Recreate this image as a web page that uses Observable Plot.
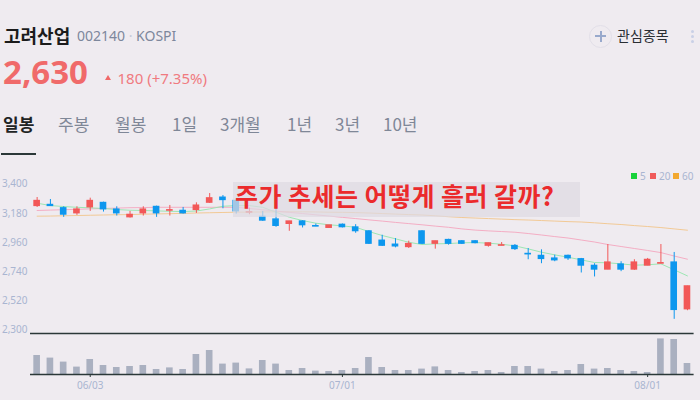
<!DOCTYPE html>
<html><head><meta charset="utf-8">
<script src="https://cdn.jsdelivr.net/npm/d3@7"></script>
<script src="https://cdn.jsdelivr.net/npm/@observablehq/plot@0.6"></script>
<style>
body{margin:0;background:#efebf0;width:700px;height:400px;overflow:hidden;position:relative;font-family:"Noto Sans CJK KR","Noto Sans",sans-serif;}
.abs{position:absolute;white-space:nowrap;line-height:1;}
.tab{position:absolute;top:115px;font-size:17px;color:#7f8797;line-height:1;white-space:nowrap;}
svg{position:absolute;left:0;}
</style></head><body>
<div class="abs" style="left:4px;top:26px;font-size:18px;font-weight:700;color:#1b1b1b">고려산업</div>
<div class="abs" style="left:77px;top:29px;font-size:14px;color:#7d879c;font-family:'Noto Sans'">002140 <span style="color:#c3c8d6">·</span> KOSPI</div>
<div class="abs" style="left:3px;top:55px;font-size:33px;font-weight:700;color:#f06a6a;font-family:'Noto Sans'">2,630</div>
<div class="abs" style="left:105px;top:74.5px;width:0;height:0;border-left:3.7px solid transparent;border-right:3.7px solid transparent;border-bottom:5px solid #f06868"></div>
<div class="abs" style="left:117.5px;top:71px;font-size:15px;color:#f07a80;font-family:'Noto Sans'">180 (+7.35%)</div>
<div class="tab" style="left:3px;color:#1f2424;font-weight:700">일봉</div>
<div class="tab" style="left:58px">주봉</div>
<div class="tab" style="left:115px">월봉</div>
<div class="tab" style="left:172px">1일</div>
<div class="tab" style="left:220px">3개월</div>
<div class="tab" style="left:287px">1년</div>
<div class="tab" style="left:335px">3년</div>
<div class="tab" style="left:383px">10년</div>
<div class="abs" style="left:1px;top:153px;width:35px;height:2px;background:#2b3838"></div>
<div class="abs" style="left:589px;top:25px;width:21px;height:21px;border:1px solid #e2dfe8;border-radius:50%"></div>
<div class="abs" style="left:595px;top:35px;width:11px;height:2px;background:#98a9cc"></div>
<div class="abs" style="left:599.5px;top:30.5px;width:2px;height:11px;background:#98a9cc"></div>
<div class="abs" style="left:617px;top:28px;font-size:14px;color:#2a2e33">관심종목</div>
<div class="abs" style="left:691px;top:30px;width:3px;height:3px;border-radius:50%;background:#c9d0e6"></div>
<div class="abs" style="left:691px;top:35px;width:3px;height:3px;border-radius:50%;background:#c9d0e6"></div>
<div class="abs" style="left:691px;top:40px;width:3px;height:3px;border-radius:50%;background:#c9d0e6"></div>
<div id="price"></div>
<div id="vol"></div>
<div class="abs" style="left:631px;top:173px;width:6px;height:6px;background:#17d23a"></div>
<div class="abs" style="left:640px;top:171px;font-size:10px;color:#a9b5d1;font-family:'Noto Sans'">5</div>
<div class="abs" style="left:650px;top:173px;width:6px;height:6px;background:#f05a5a"></div>
<div class="abs" style="left:659px;top:171px;font-size:10px;color:#a9b5d1;font-family:'Noto Sans'">20</div>
<div class="abs" style="left:673px;top:173px;width:6px;height:6px;background:#f2a830"></div>
<div class="abs" style="left:682px;top:171px;font-size:10px;color:#a9b5d1;font-family:'Noto Sans'">60</div>
<div class="abs" style="left:233px;top:182px;width:347px;height:35px;background:rgba(222,218,226,0.72)"></div>
<div class="abs" style="left:235px;top:183px;font-size:25px;font-weight:700;color:#eb2a2c;letter-spacing:0.45px">주가 추세는 어떻게 흘러 갈까?</div>
<script>
const dates = ["05/28","05/29","05/30","05/31",
"06/03","06/04","06/05","06/07","06/10","06/11","06/12","06/13","06/14","06/17","06/18","06/19","06/20","06/21","06/24","06/25","06/26","06/27","06/28",
"07/01","07/02","07/03","07/04","07/05","07/08","07/09","07/10","07/11","07/12","07/15","07/16","07/17","07/18","07/19","07/22","07/23","07/24","07/25","07/26","07/29","07/30","07/31",
"08/01","08/02","08/05","08/06"];
const open  = [3235,3245,3220,3180,3225,3260,3210,3150,3180,3230,3200,3200,3205,3260,3300,3275,3185,3155,3135,3100,3120,3085,3070,3095,3075,3045,2975,2945,2925,3045,2950,2980,2970,2970,2935,2935,2935,2875,2860,2840,2860,2835,2785,2755,2795,2755,2785,2800,2810,2455];
const high  = [3300,3285,3230,3230,3295,3265,3230,3195,3230,3235,3240,3225,3260,3330,3315,3280,3220,3195,3275,3120,3125,3100,3090,3100,3095,3050,3015,2990,2970,3050,2970,2985,2975,2975,2955,2960,2945,2915,2905,2865,2865,2840,2800,2945,2815,2830,2840,2945,2885,2630];
const low   = [3225,3235,3150,3165,3195,3190,3160,3145,3160,3150,3160,3175,3180,3255,3215,3175,3170,3120,3075,3045,3070,3080,3070,3070,3030,2945,2930,2920,2915,2945,2910,2940,2945,2950,2925,2935,2900,2830,2800,2815,2825,2730,2700,2755,2740,2750,2785,2800,2380,2445];
const close = [3275,3235,3170,3210,3275,3210,3180,3170,3210,3180,3205,3180,3240,3295,3280,3195,3190,3125,3085,3120,3090,3080,3090,3075,3045,2950,2935,2930,2950,2950,2970,2950,2950,2955,2955,2940,2910,2870,2835,2825,2840,2785,2755,2810,2755,2810,2830,2805,2450,2630];
const volume = [95,82,62,37,75,45,35,40,45,25,33,25,100,120,52,57,28,70,52,20,30,17,15,20,30,85,35,20,20,27,38,20,10,15,20,10,40,40,27,15,20,50,27,30,20,15,10,178,175,55];
const ma5  = [3257,3239,3232,3226,3222,3217,3209,3204,3202,3199,3196,3194,3198,3214,3234,3239,3239,3226,3189,3151,3126,3106,3094,3086,3075,3043,3013,2988,2962,2945,2950,2952,2958,2960,2955,2947,2935,2912,2887,2867,2849,2829,2809,2807,2799,2789,2792,2799,2754,2708];
const ma20 = [3202,3205,3208,3211,3214,3217,3220,3223,3224,3226,3226,3226,3226,3226,3226,3226,3217,3207,3198,3188,3179,3169,3160,3150,3141,3131,3122,3112,3103,3094,3084,3075,3063,3054,3048,3043,3038,3028,3017,3005,2994,2979,2964,2945,2930,2915,2900,2884,2858,2834];
const ma60 = [3159,3160,3162,3164,3166,3168,3170,3171,3174,3176,3178,3180,3183,3185,3187,3189,3190,3191,3192,3192,3192,3191,3189,3188,3186,3183,3179,3175,3171,3168,3162,3155,3149,3145,3141,3137,3133,3130,3126,3122,3118,3115,3109,3102,3096,3088,3081,3073,3063,3053];
const yTicks = [2300,2520,2740,2960,3180,3400];
const xTicks = ["06/03","07/01","08/01"];

const RED = "#f25858", BLUE = "#0d97ee", LINE = "#2b3838", LABEL = "#a9b5d1";
const rows = dates.map((d,i)=>({date:d, open:open[i], high:high[i], low:low[i], close:close[i],
  volume:volume[i], ma5:ma5[i], ma20:ma20[i], ma60:ma60[i], up: close[i] >= open[i]}));
const xScale = {type:"band", domain: dates, paddingInner:0.5, paddingOuter:0.25, round:false, axis:null};
const common = {width:700, marginLeft:30, marginRight:6.4,
  style:{background:"transparent", fontFamily:"'Noto Sans', sans-serif", fontSize:"10px", overflow:"visible"}};

const price = Plot.plot({...common, height:176, marginTop:10, marginBottom:3,
  x: xScale,
  y: {domain:[2273,3504], axis:null, label:null},
  marks: [
    Plot.lineY(rows, {x:"date", y:"ma60", stroke:"#f2c58c", strokeWidth:1, strokeOpacity:0.9}),
    Plot.lineY(rows, {x:"date", y:"ma20", stroke:"#f4a6bf", strokeWidth:1, strokeOpacity:0.9}),
    Plot.lineY(rows, {x:"date", y:"ma5", stroke:"#98e6b0", strokeWidth:1, strokeOpacity:0.95}),
    Plot.ruleX(rows, {x:"date", y1:"low", y2:"high", stroke:d=>d.up?RED:BLUE, strokeWidth:1}),
    Plot.barY(rows, {x:"date", y1:"open", y2:"close", fill:d=>d.up?RED:BLUE, insetTop:-0.5, insetBottom:-0.5}),
    Plot.axisY(yTicks, {tickSize:0, tickPadding:3, fill:LABEL, fontSize:10, tickFormat:d3.format(","), label:null}),
    Plot.ruleY([2273], {stroke:LINE, strokeWidth:1.5})
  ]});
price.style.top = "160px";
document.getElementById("price").append(price);

const vol = Plot.plot({...common, height:67, marginTop:5, marginBottom:26,
  x: xScale,
  y: {domain:[0,180], axis:null, label:null},
  marks: [
    Plot.barY(rows, {x:"date", y:"volume", fill:"#aab0c0"}),
    Plot.ruleY([0], {stroke:LINE, strokeWidth:1.5}),
    Plot.axisX(xTicks, {tickSize:3, tickPadding:4, fill:LABEL, stroke:LINE, fontSize:10, label:null})
  ]});
vol.style.top = "333px";
document.getElementById("vol").append(vol);
</script>
</body></html>
